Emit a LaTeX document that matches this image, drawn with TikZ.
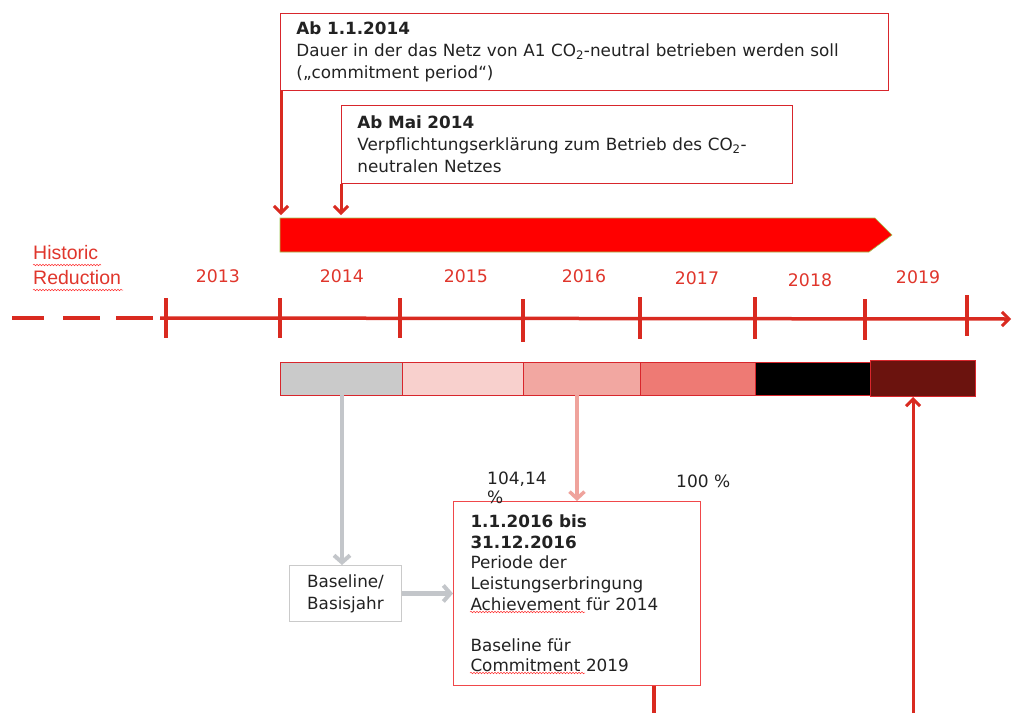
\documentclass[tikz,border=0pt]{standalone}
\usepackage{fontspec}
\setmainfont{DejaVu Sans}
\newfontfamily\arialfont{Liberation Sans}
\usetikzlibrary{arrows.meta,decorations.pathmorphing}
\definecolor{axisred}{HTML}{D92A20}
\definecolor{yearred}{HTML}{E0362C}
\definecolor{boxred}{HTML}{D8262C}
\definecolor{txt}{HTML}{222222}
\definecolor{barred}{HTML}{FF0000}
\definecolor{bargreen}{HTML}{9CC850}
\definecolor{segA}{HTML}{CACACA}
\definecolor{segB}{HTML}{F8D0CD}
\definecolor{segC}{HTML}{F2A7A1}
\definecolor{segD}{HTML}{EE7A74}
\definecolor{segF}{HTML}{6B130E}
\definecolor{grayarrow}{HTML}{C3C6CA}
\definecolor{pinkarrow}{HTML}{EFA39C}
\definecolor{bigbox}{HTML}{F0484A}
\tikzset{
  infobox/.style={draw=boxred, line width=0.9pt, anchor=north west, align=left, text=txt,
    font=\fontsize{16.8}{22}\selectfont, inner xsep=16pt},
  redarrow/.style={draw=axisred, line width=3pt, -{Straight Barb[length=7pt,width=14pt,line width=3pt]}},
  grayarr/.style={draw=grayarrow, line width=4.5pt, -{Straight Barb[length=7pt,width=16pt,line width=4pt]}},
  pinkarr/.style={draw=pinkarrow, line width=3.5pt, -{Straight Barb[length=7pt,width=15pt,line width=3.5pt]}},
  year/.style={text=yearred, font=\fontsize{17.3}{20}\selectfont},
  tick/.style={draw=axisred, line width=3.2pt},
  seg/.style={draw=boxred, line width=0.7pt},
  wavy/.style={draw=red!80!white, line width=0.5pt, decorate, decoration={snake, segment length=3pt, amplitude=0.8pt}},
  plain/.style={text=txt, font=\fontsize{17}{19}\selectfont}
}
\begin{document}
\begin{tikzpicture}[x=1pt,y=-1pt]
\useasboundingbox (0,0) rectangle (1012,713);
\fill[white] (0,0) rectangle (1012,713);

% top boxes
\node[infobox, minimum width=608pt, minimum height=77pt, text width=576pt] (box1) at (280,13)
  {\textbf{Ab 1.1.2014}\\Dauer in der das Netz von A1 CO\textsubscript{2}-neutral betrieben werden soll\\(„commitment period“)};
\node[infobox, minimum width=451pt, minimum height=78pt, text width=419pt] (box2) at (341,105)
  {\textbf{Ab Mai 2014}\\Verpflichtungserklärung zum Betrieb des CO\textsubscript{2}-\\neutralen Netzes};

% red banner
\coordinate (b1) at (281,215);
\coordinate (b2) at (341,215);
\draw[redarrow] (box1.south west -| b1) -- (b1);
\draw[redarrow] (box2.south west) -- (b2);
\filldraw[fill=barred, draw=bargreen, line width=0.6pt]
  (280,218) -- (875,218) -- (892,235) -- (869,252) -- (280,252) -- cycle;
\node[inner sep=0, minimum width=610pt, minimum height=34pt, anchor=north west] (banner) at (280,218) {};

% timeline
\draw[draw=axisred, line width=3.5pt] (12,318) -- (44,318) (63,318) -- (100,318) (116,318) -- (153,318);
\coordinate (tstart) at (160,318);
\coordinate (tend) at (1011,319);
\draw[draw=axisred, line width=3.5pt, -{Straight Barb[length=7pt,width=14pt,line width=3pt]}] (tstart) -- (tend);
\foreach \x/\a/\b in {166/298/338, 280/298/338, 400/298/338, 523/299/342, 640/297/339, 755/297/339, 865/299/340, 967/295/336}
  \draw[tick] (\x,\a) -- (\x,\b);

\node[year] (y13) at (218,276) {2013};
\node[year] (y14) at (342,276) {2014};
\node[year] (y15) at (466,276) {2015};
\node[year] (y16) at (584,276) {2016};
\node[year] (y17) at (697,278) {2017};
\node[year] (y18) at (810,280) {2018};
\node[year] (y19) at (918,277) {2019};

\node[text=yearred, font=\arialfont\fontsize{19.5}{25}\selectfont, align=left, anchor=north west, inner sep=0] (hist) at (33,245) {Historic\\Reduction};
\draw[wavy] (33,265) -- (101,265);
\draw[wavy] (33,290) -- (123,290);

% color bar
\filldraw[seg, fill=segA] (280,362) rectangle (402,395);
\filldraw[seg, fill=segB] (402,362) rectangle (523,395);
\filldraw[seg, fill=segC] (523,362) rectangle (640,395);
\filldraw[seg, fill=segD] (640,362) rectangle (755,395);
\filldraw[seg, fill=black] (755,362) rectangle (870,395);
\filldraw[seg, fill=segF] (870,360) rectangle (975,396);
\coordinate (sA) at (342,395);
\coordinate (sC) at (577,395);
\coordinate (sF) at (913,397);

% lower boxes
\node[draw=segA, line width=0.9pt, minimum width=112pt, minimum height=56pt, anchor=north west, align=center, text=txt, font=\fontsize{16.8}{22}\selectfont, inner sep=0] (base) at (289,565) {Baseline/\\Basisjahr};
\node[draw=bigbox, line width=1pt, minimum height=184pt, text width=213pt, anchor=north west, align=left, text=txt, font=\fontsize{16.8}{20.6}\selectfont, inner xsep=17pt, inner ysep=0pt] (big) at (453,501)
  {\textbf{1.1.2016 bis}\\\textbf{31.12.2016}\\Periode der\\Leistungserbringung\\Achievement für 2014\\[20.6pt]Baseline für\\Commitment 2019};
\draw[wavy] (470,612) -- (585,612);
\draw[wavy] (470,673) -- (585,673);

\draw[grayarr] (sA) -- (base.north -| sA);
\draw[grayarr] (base.east) -- (big.west |- base.east);
\draw[pinkarr] (sC) -- (big.north -| sC);

\node[plain, anchor=north west, align=left, inner sep=0] (pct1) at (487,472) {104,14\\\%};
\node[plain, anchor=north west, inner sep=0] (pct2) at (676,475) {100 \%};

\coordinate (bot1) at (654,713);
\draw[draw=axisred, line width=3.5pt] (big.south -| bot1) -- (bot1);
\coordinate (bot2) at (913,713);
\draw[redarrow] (bot2) -- (sF);
\end{tikzpicture}
\end{document}
